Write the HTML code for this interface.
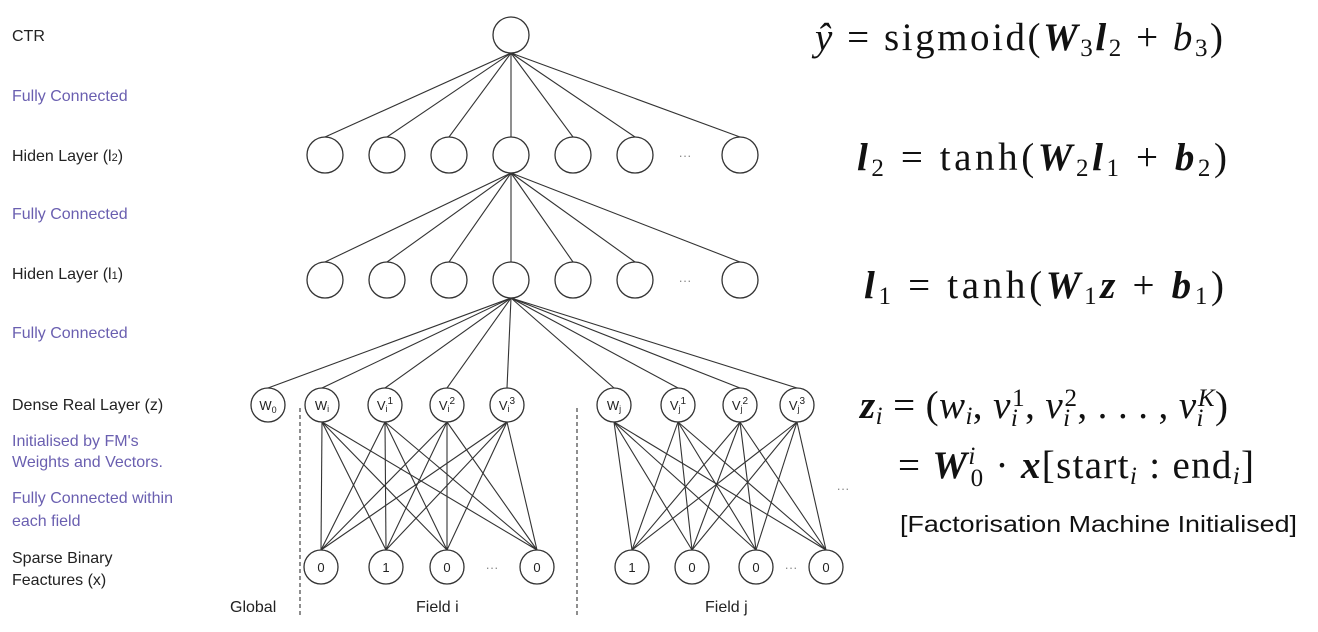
<!DOCTYPE html>
<html><head><meta charset="utf-8"><style>
body{margin:0;background:#fff;width:1318px;height:632px;overflow:hidden}
svg{display:block}
.l{font-family:"Liberation Sans",sans-serif;font-size:16px;fill:#222}
.p{font-family:"Liberation Sans",sans-serif;font-size:16px;fill:#6a5fb0}
.m{font-family:"Liberation Serif",serif;font-size:39px;fill:#111}
.s{font-size:25px}
.n{font-family:"Liberation Sans",sans-serif;font-size:13px;fill:#222;text-anchor:middle}
</style></head><body>
<svg width="1318" height="632" viewBox="0 0 1318 632" xmlns="http://www.w3.org/2000/svg">
<g stroke="#333" stroke-width="1.1" fill="none">
<line x1="511" y1="53" x2="325" y2="137"/><line x1="511" y1="53" x2="387" y2="137"/><line x1="511" y1="53" x2="449" y2="137"/><line x1="511" y1="53" x2="511" y2="137"/><line x1="511" y1="53" x2="573" y2="137"/><line x1="511" y1="53" x2="635" y2="137"/><line x1="511" y1="53" x2="740" y2="137"/>
<line x1="511" y1="173" x2="325" y2="262"/><line x1="511" y1="173" x2="387" y2="262"/><line x1="511" y1="173" x2="449" y2="262"/><line x1="511" y1="173" x2="511" y2="262"/><line x1="511" y1="173" x2="573" y2="262"/><line x1="511" y1="173" x2="635" y2="262"/><line x1="511" y1="173" x2="740" y2="262"/>
<line x1="511" y1="298" x2="268" y2="388"/><line x1="511" y1="298" x2="322" y2="388"/><line x1="511" y1="298" x2="385" y2="388"/><line x1="511" y1="298" x2="447" y2="388"/><line x1="511" y1="298" x2="507" y2="388"/><line x1="511" y1="298" x2="614" y2="388"/><line x1="511" y1="298" x2="678" y2="388"/><line x1="511" y1="298" x2="740" y2="388"/><line x1="511" y1="298" x2="797" y2="388"/>
<line x1="322" y1="422" x2="321" y2="550"/><line x1="322" y1="422" x2="386" y2="550"/><line x1="322" y1="422" x2="447" y2="550"/><line x1="322" y1="422" x2="537" y2="550"/>
<line x1="385" y1="422" x2="321" y2="550"/><line x1="385" y1="422" x2="386" y2="550"/><line x1="385" y1="422" x2="447" y2="550"/><line x1="385" y1="422" x2="537" y2="550"/>
<line x1="447" y1="422" x2="321" y2="550"/><line x1="447" y1="422" x2="386" y2="550"/><line x1="447" y1="422" x2="447" y2="550"/><line x1="447" y1="422" x2="537" y2="550"/>
<line x1="507" y1="422" x2="321" y2="550"/><line x1="507" y1="422" x2="386" y2="550"/><line x1="507" y1="422" x2="447" y2="550"/><line x1="507" y1="422" x2="537" y2="550"/>
<line x1="614" y1="422" x2="632" y2="550"/><line x1="614" y1="422" x2="692" y2="550"/><line x1="614" y1="422" x2="756" y2="550"/><line x1="614" y1="422" x2="826" y2="550"/>
<line x1="678" y1="422" x2="632" y2="550"/><line x1="678" y1="422" x2="692" y2="550"/><line x1="678" y1="422" x2="756" y2="550"/><line x1="678" y1="422" x2="826" y2="550"/>
<line x1="740" y1="422" x2="632" y2="550"/><line x1="740" y1="422" x2="692" y2="550"/><line x1="740" y1="422" x2="756" y2="550"/><line x1="740" y1="422" x2="826" y2="550"/>
<line x1="797" y1="422" x2="632" y2="550"/><line x1="797" y1="422" x2="692" y2="550"/><line x1="797" y1="422" x2="756" y2="550"/><line x1="797" y1="422" x2="826" y2="550"/>
<line x1="300" y1="408" x2="300" y2="618" stroke-dasharray="4,3"/>
<line x1="577" y1="408" x2="577" y2="618" stroke-dasharray="4,3"/>
</g>
<g stroke="#333" stroke-width="1.3" fill="#fff">
<circle cx="511" cy="35" r="18"/>
<circle cx="325" cy="155" r="18"/><circle cx="387" cy="155" r="18"/><circle cx="449" cy="155" r="18"/><circle cx="511" cy="155" r="18"/><circle cx="573" cy="155" r="18"/><circle cx="635" cy="155" r="18"/><circle cx="740" cy="155" r="18"/>
<circle cx="325" cy="280" r="18"/><circle cx="387" cy="280" r="18"/><circle cx="449" cy="280" r="18"/><circle cx="511" cy="280" r="18"/><circle cx="573" cy="280" r="18"/><circle cx="635" cy="280" r="18"/><circle cx="740" cy="280" r="18"/>
<circle cx="268" cy="405" r="17"/><circle cx="322" cy="405" r="17"/><circle cx="385" cy="405" r="17"/><circle cx="447" cy="405" r="17"/><circle cx="507" cy="405" r="17"/><circle cx="614" cy="405" r="17"/><circle cx="678" cy="405" r="17"/><circle cx="740" cy="405" r="17"/><circle cx="797" cy="405" r="17"/>
<circle cx="321" cy="567" r="17"/><circle cx="386" cy="567" r="17"/><circle cx="447" cy="567" r="17"/><circle cx="537" cy="567" r="17"/>
<circle cx="632" cy="567" r="17"/><circle cx="692" cy="567" r="17"/><circle cx="756" cy="567" r="17"/><circle cx="826" cy="567" r="17"/>
</g>
<g class="n">
<text x="685" y="160" fill="#888">···</text><text x="685" y="285" fill="#888">···</text>
<text x="268" y="410">W<tspan font-size="9" dy="3">0</tspan></text>
<text x="322" y="410">W<tspan font-size="9" dy="2">i</tspan></text>
<text x="385" y="410">V<tspan font-size="9" dy="2">i</tspan><tspan font-size="10" dy="-8">1</tspan></text>
<text x="447" y="410">V<tspan font-size="9" dy="2">i</tspan><tspan font-size="10" dy="-8">2</tspan></text>
<text x="507" y="410">V<tspan font-size="9" dy="2">i</tspan><tspan font-size="10" dy="-8">3</tspan></text>
<text x="614" y="410">W<tspan font-size="9" dy="2">j</tspan></text>
<text x="678" y="410">V<tspan font-size="9" dy="2">j</tspan><tspan font-size="10" dy="-8">1</tspan></text>
<text x="740" y="410">V<tspan font-size="9" dy="2">j</tspan><tspan font-size="10" dy="-8">2</tspan></text>
<text x="797" y="410">V<tspan font-size="9" dy="2">j</tspan><tspan font-size="10" dy="-8">3</tspan></text>
<text x="321" y="572">0</text><text x="386" y="572">1</text><text x="447" y="572">0</text><text x="492" y="572" fill="#888">···</text><text x="537" y="572">0</text>
<text x="632" y="572">1</text><text x="692" y="572">0</text><text x="756" y="572">0</text><text x="791" y="572" fill="#888">···</text><text x="826" y="572">0</text>
<text x="843" y="493" fill="#888">···</text>
</g>
<text class="l" x="230" y="612">Global</text>
<text class="l" x="416" y="612">Field i</text>
<text class="l" x="705" y="612">Field j</text>
<text class="l" x="12" y="41">CTR</text>
<text class="p" x="12" y="101">Fully Connected</text>
<text class="l" x="12" y="161">Hiden Layer (l<tspan font-size="11">2</tspan>)</text>
<text class="p" x="12" y="219">Fully Connected</text>
<text class="l" x="12" y="279">Hiden Layer (l<tspan font-size="11">1</tspan>)</text>
<text class="p" x="12" y="338">Fully Connected</text>
<text class="l" x="12" y="410">Dense Real Layer (z)</text>
<text class="p" x="12" y="446">Initialised by FM's</text>
<text class="p" x="12" y="467">Weights and Vectors.</text>
<text class="p" x="12" y="503">Fully Connected within</text>
<text class="p" x="12" y="526">each field</text>
<text class="l" x="12" y="563">Sparse Binary</text>
<text class="l" x="12" y="585">Feactures (x)</text>
<text class="m" x="815" y="50" textLength="408" lengthAdjust="spacing"><tspan font-style="italic">ŷ</tspan> = sigmoid(<tspan font-weight="bold" font-style="italic">W</tspan><tspan class="s" dy="6">3</tspan><tspan font-weight="bold" font-style="italic" dy="-6">l</tspan><tspan class="s" dy="6">2</tspan><tspan dy="-6"> + </tspan><tspan font-style="italic">b</tspan><tspan class="s" dy="6">3</tspan><tspan dy="-6">)</tspan></text>
<text class="m" x="857" y="170" textLength="370" lengthAdjust="spacing"><tspan font-weight="bold" font-style="italic">l</tspan><tspan class="s" dy="6">2</tspan><tspan dy="-6"> = tanh(</tspan><tspan font-weight="bold" font-style="italic">W</tspan><tspan class="s" dy="6">2</tspan><tspan font-weight="bold" font-style="italic" dy="-6">l</tspan><tspan class="s" dy="6">1</tspan><tspan dy="-6"> + </tspan><tspan font-weight="bold" font-style="italic">b</tspan><tspan class="s" dy="6">2</tspan><tspan dy="-6">)</tspan></text>
<text class="m" x="864" y="298" textLength="360" lengthAdjust="spacing"><tspan font-weight="bold" font-style="italic">l</tspan><tspan class="s" dy="6">1</tspan><tspan dy="-6"> = tanh(</tspan><tspan font-weight="bold" font-style="italic">W</tspan><tspan class="s" dy="6">1</tspan><tspan font-weight="bold" font-style="italic" dy="-6">z</tspan><tspan> + </tspan><tspan font-weight="bold" font-style="italic">b</tspan><tspan class="s" dy="6">1</tspan><tspan dy="-6">)</tspan></text>
<text class="m" x="860" y="418" textLength="368" lengthAdjust="spacing"><tspan font-weight="bold" font-style="italic">z</tspan><tspan class="s" font-style="italic" dy="6">i</tspan><tspan dy="-6"> = (</tspan><tspan font-style="italic">w</tspan><tspan class="s" font-style="italic" dy="6">i</tspan><tspan dy="-6">, </tspan><tspan font-style="italic">v</tspan><tspan class="s" font-style="italic" dy="8">i</tspan><tspan class="s" dx="-6" dy="-20">1</tspan><tspan dy="12">, </tspan><tspan font-style="italic">v</tspan><tspan class="s" font-style="italic" dy="8">i</tspan><tspan class="s" dx="-6" dy="-20">2</tspan><tspan dy="12">, . . . , </tspan><tspan font-style="italic">v</tspan><tspan class="s" font-style="italic" dy="8">i</tspan><tspan class="s" font-style="italic" dx="-6" dy="-20">K</tspan><tspan dy="12">)</tspan></text>
<text class="m" x="898" y="478" textLength="356" lengthAdjust="spacing">= <tspan font-weight="bold" font-style="italic">W</tspan><tspan class="s" font-style="italic" dy="-14">i</tspan><tspan class="s" dx="-6" dy="22">0</tspan><tspan dy="-8"> · </tspan><tspan font-weight="bold" font-style="italic">x</tspan><tspan>[start</tspan><tspan class="s" font-style="italic" dy="6">i</tspan><tspan dy="-6"> : end</tspan><tspan class="s" font-style="italic" dy="6">i</tspan><tspan dy="-6">]</tspan></text>
<text x="900" y="532" font-family="Liberation Sans,sans-serif" font-size="23" fill="#111" textLength="397" lengthAdjust="spacingAndGlyphs">[Factorisation Machine Initialised]</text>
</svg>
</body></html>
